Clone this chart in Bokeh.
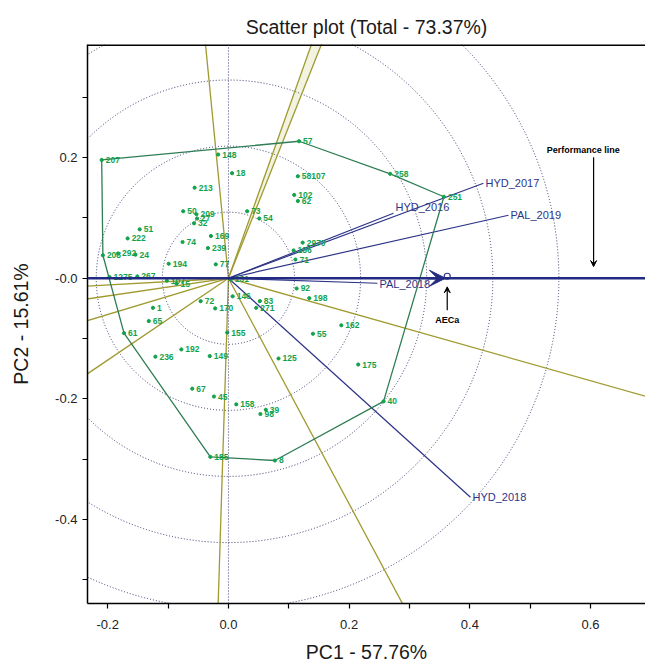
from bokeh.plotting import figure
from bokeh.models import ColumnDataSource, Span, Arrow, VeeHead, FixedTicker, Range1d
from bokeh.embed import file_html
from bokeh.resources import INLINE
from bokeh.core.properties import value

# ---------------- data ----------------
genotypes = ["207", "148", "18", "213", "50", "209", "27", "32", "51", "222",
             "74", "169", "239", "208", "292", "24", "194", "77", "1275", "267",
             "107", "15", "131", "72", "170", "1", "65", "61", "155", "192",
             "236", "149", "67", "45", "185", "8", "158", "39", "98", "125",
             "55", "162", "175", "40", "92", "198", "146", "83", "271", "57",
             "58107", "102", "62", "73", "54", "2970", "186", "71", "258", "251"]
pc1 = [-0.210, -0.017, 0.006, -0.056, -0.075, -0.053, -0.052, -0.057, -0.147, -0.167,
       -0.076, -0.029, -0.034, -0.208, -0.183, -0.154, -0.099, -0.021, -0.197, -0.151,
       -0.102, -0.086, 0.004, -0.046, -0.022, -0.125, -0.132, -0.173, -0.002, -0.078,
       -0.121, -0.031, -0.060, -0.024, -0.030, 0.077, 0.013, 0.062, 0.053, 0.083,
       0.140, 0.187, 0.215, 0.257, 0.113, 0.134, 0.007, 0.052, 0.046, 0.117,
       0.115, 0.109, 0.115, 0.031, 0.051, 0.123, 0.108, 0.111, 0.268, 0.357]
pc2 = [0.196, 0.205, 0.174, 0.150, 0.111, 0.106, 0.099, 0.091, 0.081, 0.066,
       0.060, 0.070, 0.050, 0.038, 0.041, 0.039, 0.024, 0.023, 0.002, 0.003,
       -0.004, -0.009, -0.002, -0.038, -0.050, -0.049, -0.071, -0.091, -0.090, -0.118,
       -0.130, -0.129, -0.183, -0.196, -0.296, -0.302, -0.209, -0.218, -0.225, -0.133,
       -0.092, -0.078, -0.143, -0.204, -0.017, -0.033, -0.030, -0.038, -0.049, 0.227,
       0.169, 0.138, 0.128, 0.111, 0.099, 0.059, 0.046, 0.031, 0.173, 0.135]

hull_vertices = ["207", "57", "258", "251", "40", "8", "185", "61", "208", "207"]

env_names = ["HYD_2017", "HYD_2016", "PAL_2019", "PAL_2018", "HYD_2018"]
env_pc1 = [0.4225, 0.2734, 0.464, 0.2469, 0.401]
env_pc2 = [0.1574, 0.1077, 0.1044, -0.0083, -0.363]

# sector boundary rays (perpendiculars to polygon sides), end points
ray_pc1 = [-0.038, 0.1375, 0.154, 0.691, 0.288, -0.017, -0.237, -0.237, -0.237, -0.237]
ray_pc2 = [0.3873, 0.3873, 0.3873, -0.1955, -0.5385, -0.5385, -0.0133, -0.0348, -0.0712, -0.1607]

circle_radii = [0.1095, 0.219, 0.3285, 0.438, 0.5475]

aec_point = (0.3625, 0.0033)
aec_tip = 0.3596
aeca_arrow_y = (-0.0530, -0.0143)
aeca_label_y = -0.0696
perf_x = 0.605
perf_arrow_y = (0.2005, 0.0193)
perf_label = (0.588, 0.2126)

x_ticks = [-0.2, 0.0, 0.2, 0.4, 0.6]
x_tick_labels = ["-0.2", "0.0", "0.2", "0.4", "0.6"]
x_minor = [-0.1, 0.1, 0.3, 0.5]
y_ticks = [-0.4, -0.2, 0.0, 0.2]
y_tick_labels = ["-0.4", "-0.2", "-0.0", "0.2"]
y_minor = [-0.5, -0.3, -0.1, 0.1, 0.3]

# ---------------- styles ----------------
FONT = "Liberation Sans"
NAVY = "#2e3488"
OLIVE = "#a09a30"
GREEN_PT = "#12a24c"
GREEN_HULL = "#2f7d55"
DOT = "#363a6c"

p = figure(frame_width=558, frame_height=559,
           x_range=Range1d(-0.2335, 0.691), y_range=Range1d(-0.539, 0.3873),
           output_backend="svg", toolbar_location=None,
           min_border_left=87, min_border_right=0, min_border_top=44, min_border_bottom=64,
           background_fill_color="white", border_fill_color="white")
p.outline_line_color = None
p.xgrid.visible = False
p.ygrid.visible = False

p.title.text = "Scatter plot (Total - 73.37%)"
p.title.align = "center"
p.title.vertical_align = "top"
p.title.text_font = FONT
p.title.text_font_size = "19.5px"
p.title.text_font_style = "normal"
p.title.text_color = "#1a1a1a"
p.title.standoff = 10

for ax, ticks, labels, minor in ((p.xaxis[0], x_ticks, x_tick_labels, x_minor),
                                 (p.yaxis[0], y_ticks, y_tick_labels, y_minor)):
    ax.ticker = FixedTicker(ticks=ticks, minor_ticks=minor)
    ax.major_label_overrides = {t: l for t, l in zip(ticks, labels)}
    ax.axis_line_color = "black"
    ax.axis_line_width = 1.5
    ax.major_tick_line_color = "black"
    ax.minor_tick_line_color = "black"
    ax.major_tick_line_width = 1.2
    ax.minor_tick_line_width = 1.2
    ax.major_tick_in = 0
    ax.major_tick_out = 5
    ax.minor_tick_in = 0
    ax.minor_tick_out = 5
    ax.major_label_text_font = FONT
    ax.major_label_text_font_size = "13px"
    ax.major_label_text_color = "#222222"
    ax.axis_label_text_font = FONT
    ax.axis_label_text_font_size = "19.5px"
    ax.axis_label_text_font_style = "normal"
    ax.axis_label_text_color = "#1a1a1a"

p.xaxis.axis_label = "PC1 - 57.76%"
p.yaxis.axis_label = "PC2 - 15.61%"
p.xaxis.major_label_standoff = 11
p.xaxis.axis_label_standoff = 9
p.yaxis.major_label_standoff = 5
p.yaxis.axis_label_standoff = 20

# top border
p.add_layout(Span(location=0.3873, dimension="width", line_color="black", line_width=3))

# shaded wedge between the two close rays
p.patch([0, ray_pc1[1] * 1.1, ray_pc1[2] * 1.1], [0, ray_pc2[1] * 1.1, ray_pc2[2] * 1.1],
        fill_color="#f1f3de", fill_alpha=0.9, line_color=None)

# concentric dotted circles
p.circle(x=[0] * len(circle_radii), y=[0] * len(circle_radii), radius=circle_radii,
         fill_color=None, line_color=DOT, line_dash="1 2", line_width=1)

# dotted axes through origin
p.add_layout(Span(location=0, dimension="height", line_color=DOT, line_dash="1 2", line_width=1))
p.add_layout(Span(location=0, dimension="width", line_color=DOT, line_dash="1 2", line_width=1))

# sector rays
p.segment(x0=[0] * len(ray_pc1), y0=[0] * len(ray_pc1),
          x1=[v * 1.1 for v in ray_pc1], y1=[v * 1.1 for v in ray_pc2],
          line_color=OLIVE, line_width=1.3)

# environment vectors
p.segment(x0=[0] * len(env_pc1), y0=[0] * len(env_pc1), x1=env_pc1, y1=env_pc2,
          line_color=NAVY, line_width=1.2)
env_dy = {"HYD_2016": -6, "PAL_2018": 1}
env_src = ColumnDataSource(dict(x=env_pc1, y=env_pc2, t=env_names,
                                dy=[env_dy.get(n, 0) for n in env_names]))
p.text(x="x", y="y", text="t", source=env_src, x_offset=2, y_offset="dy",
       text_font=value(FONT), text_font_size="11px", text_color=NAVY,
       text_baseline="middle", text_align="left")

# average environment axis (thick) with arrow
p.add_layout(Span(location=0, dimension="width", line_color="#232a82", line_width=2.5))
p.add_layout(Arrow(end=VeeHead(size=16, fill_color="#232a82", line_color="#232a82"),
                   x_start=aec_tip - 0.03, y_start=0, x_end=aec_tip, y_end=0,
                   line_color="#232a82", line_width=2.5))
p.scatter([aec_point[0]], [aec_point[1]], size=6, marker="circle",
          fill_color="white", line_color=NAVY, line_width=1.2)

# AECa and performance annotations
p.add_layout(Arrow(end=VeeHead(size=6, fill_color="black", line_color="black"),
                   x_start=aec_point[0], y_start=aeca_arrow_y[0],
                   x_end=aec_point[0], y_end=aeca_arrow_y[1],
                   line_color="black", line_width=1.2))
p.text(x=[aec_point[0]], y=[aeca_label_y], text=["AECa"], text_font=value(FONT),
       text_font_size="9px", text_font_style="bold", text_color="black",
       text_align="center", text_baseline="middle")
p.add_layout(Arrow(end=VeeHead(size=6, fill_color="black", line_color="black"),
                   x_start=perf_x, y_start=perf_arrow_y[0], x_end=perf_x, y_end=perf_arrow_y[1],
                   line_color="black", line_width=1.2))
p.text(x=[perf_label[0]], y=[perf_label[1]], text=["Performance line"], text_font=value(FONT),
       text_font_size="9px", text_font_style="bold", text_color="black",
       text_align="center", text_baseline="middle")

# convex hull
idx = {g: i for i, g in enumerate(genotypes)}
p.line([pc1[idx[g]] for g in hull_vertices], [pc2[idx[g]] for g in hull_vertices],
       line_color=GREEN_HULL, line_width=1.3)

# genotype points and labels
gsrc = ColumnDataSource(dict(x=pc1, y=pc2, t=genotypes))
p.scatter(x="x", y="y", source=gsrc, size=3.2, marker="circle",
          fill_color=GREEN_PT, line_color=GREEN_PT)
p.text(x="x", y="y", text="t", source=gsrc, x_offset=4, y_offset=0,
       text_font=value(FONT), text_font_size="8.5px", text_font_style="bold",
       text_color=GREEN_PT, text_baseline="middle", text_align="left")

open("out.html", "w").write(file_html(p, INLINE))
